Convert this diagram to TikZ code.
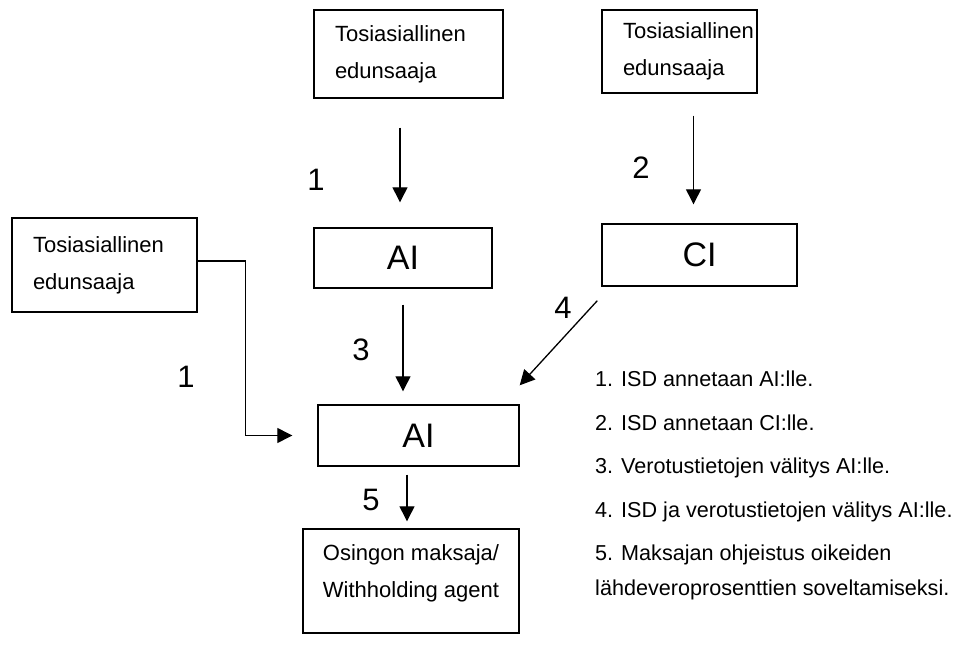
\documentclass[tikz,border=0pt]{standalone}
\usepackage{fontspec}
\setmainfont{Liberation Sans}
\usetikzlibrary{arrows.meta}

\tikzset{
	box/.style={draw, line width=1.4pt, inner sep=0pt},
	owner/.style={box, align=left, inner xsep=21pt, minimum height=88pt, font=\fontsize{22}{37}\selectfont},
	inst/.style={box, minimum height=61pt, font=\fontsize{34}{38}\selectfont},
	arr/.style={-{Triangle[length=15pt,width=15pt]}, line width=1.3pt},
	num/.style={font=\fontsize{31}{34}\selectfont}
}

\begin{document}
\begin{tikzpicture}[x=1pt,y=-1pt]

	\useasboundingbox (0,0) rectangle (954,666);
	
	\node[owner, text width=147pt] (te1) at (408.5,54) {Tosiasiallinen\\edunsaaja};
	\node[owner, text width=113pt, minimum height=83pt] (te2) at (679.5,51.5) {Tosiasiallinen\\edunsaaja};
	\node[owner, text width=143pt, minimum height=94pt] (te3) at (104.5,265) {Tosiasiallinen\\edunsaaja};
	
	\node[inst, minimum width=178pt, minimum height=60pt] (ai1) at (403,258) {AI};
	\node[inst, minimum width=195pt, minimum height=62pt] (ci) at (699.5,255) {CI};
	\node[inst, minimum width=201pt] (ai2) at (418.5,435.5) {AI};
	
	\node[box, align=center, minimum width=216pt, minimum height=104pt, font=\fontsize{22}{37}\selectfont] (payer) at (411,581) {Osingon maksaja/\\Withholding agent\\[-18pt]\mbox{}};
	
	\draw[arr, shorten <=29pt, shorten >=25pt] ([xshift=-3pt]ai1.north |- te1.south) -- ([xshift=-3pt]ai1.north);
	\draw[arr, shorten <=22pt, shorten >=19pt] ([xshift=-6pt]ci.north |- te2.south) -- ([xshift=-6pt]ci.north);
	\draw[arr, shorten <=16pt, shorten >=13pt] (ai1.south) -- (ai1.south |- ai2.north);
	\draw[arr] ([xshift=-4pt,yshift=-14pt]ci.south west) -- ([yshift=19pt]ai2.north east);
	\draw[arr, shorten >=25pt] ([yshift=4pt]te3.east) -- ++(48,0) |- (ai2.west);
	\draw[arr, shorten <=8pt, shorten >=7pt] ([xshift=-4pt]payer.north |- ai2.south) -- ([xshift=-4pt]payer.north);
	
	\node[num] (n1) at (316,180) {1};
	\node[num] (n2) at (641,168) {2};
	\node[num] (n1b) at (186,377) {1};
	\node[num] (n3) at (361,350) {3};
	\node[num] (n4) at (563,308) {4};
	\node[num] (n5) at (371,500) {5};
	
	\node[anchor=north west, align=left, inner sep=0pt, font=\fontsize{21.6}{35}\selectfont] (legend) at (595,371) {1. ISD annetaan AI:lle.\\[8.4pt]2. ISD annetaan CI:lle.\\[8.4pt]3. Verotustietojen välitys AI:lle.\\[8.4pt]4. ISD ja verotustietojen välitys AI:lle.\\[8.4pt]5. Maksajan ohjeistus oikeiden\\lähdeveroprosenttien soveltamiseksi.};
	
\end{tikzpicture}
\end{document}
